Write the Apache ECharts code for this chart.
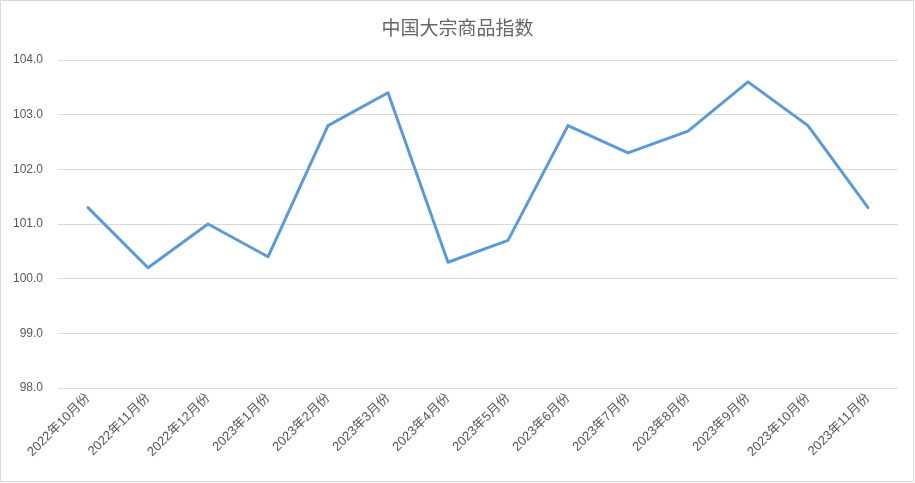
<!DOCTYPE html>
<html><head><meta charset="utf-8">
<script src="https://cdn.jsdelivr.net/npm/echarts@6/dist/echarts.min.js"></script>
<style>html,body{margin:0;padding:0;background:#fff}#c{width:915px;height:483px}</style>
</head><body><div id="c"></div>
<script>
const categories = ["2022年10月份","2022年11月份","2022年12月份","2023年1月份","2023年2月份","2023年3月份","2023年4月份","2023年5月份","2023年6月份","2023年7月份","2023年8月份","2023年9月份","2023年10月份","2023年11月份"];
const values = [101.3,100.2,101.0,100.4,102.8,103.4,100.3,100.7,102.8,102.3,102.7,103.6,102.8,101.3];
const yMin = 98, yMax = 104, yStep = 1;
const font = '"Liberation Sans","Noto Sans CJK SC",sans-serif';
const chart = echarts.init(document.getElementById('c'));
chart.setOption({
  animation:false,
  title:{text:'中国大宗商品指数',left:'center',top:13,textStyle:{fontSize:19,fontWeight:'normal',color:'#666666',fontFamily:'"Noto Sans CJK SC",sans-serif'}},
  graphic:[{type:'rect',shape:{x:0.5,y:0.5,width:913,height:481},style:{fill:'none',stroke:'#d9d9d9',lineWidth:1}}],
  grid:{left:58,right:17,top:60,bottom:95},
  xAxis:{type:'category',data:categories,boundaryGap:true,
    axisLine:{show:false},axisTick:{show:false},
    axisLabel:{rotate:45,interval:0,color:'#595959',fontSize:13,fontFamily:font,margin:8}},
  yAxis:{type:'value',min:yMin,max:yMax,interval:yStep,
    axisLine:{show:false},axisTick:{show:false},
    splitLine:{lineStyle:{color:'#d9d9d9',width:1}},
    axisLabel:{formatter:v=>v.toFixed(1),color:'#595959',fontSize:12,fontFamily:font,margin:15}},
  series:[{type:'line',data:values,symbol:'none',lineStyle:{color:'#5b9bd5',width:3,cap:'round',join:'round'}}]
});
</script></body></html>
